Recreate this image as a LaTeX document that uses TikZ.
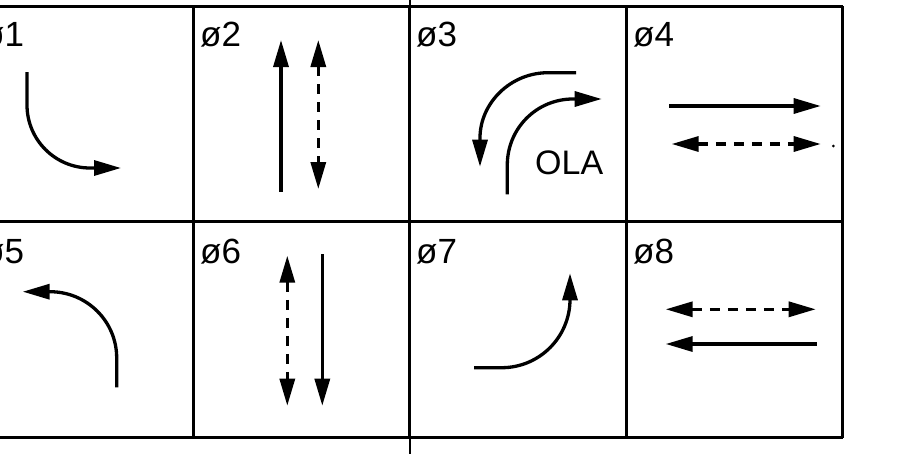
\documentclass[tikz,border=0pt]{standalone}
\usepackage{fontspec}
\setmainfont{Liberation Sans}
\usetikzlibrary{arrows.meta}
\begin{document}
\begin{tikzpicture}[x=1pt,y=-1pt,
  gridline/.style={line width=3pt},
  thinline/.style={line width=1.3pt},
  flow/.style={line width=3.3pt,-{Triangle[length=27pt,width=15pt]}},
  both/.style={line width=3.3pt,dash pattern=on 10pt off 8pt,
    {Triangle[length=27pt,width=15pt]}-{Triangle[length=27pt,width=15pt]}},
  lbl/.style={anchor=base west,inner sep=0pt,font=\fontsize{35}{35}\selectfont},
  olalbl/.style={anchor=base west,inner sep=0pt,font=\fontsize{34}{34}\selectfont}]
\useasboundingbox (0,0) rectangle (900,463);
\clip (0,0) rectangle (900,463);
% grid
\draw[gridline] (-30,6) -- (842.7,6);
\draw[gridline] (-30,221.7) -- (842.7,221.7);
\draw[gridline] (-30,437.7) -- (842.7,437.7);
\foreach \x in {193.3,409.3,626,842.7}
  \draw[gridline] (\x,6) -- (\x,437.7);
\draw[thinline] (410,0) -- (410,6);
\draw[thinline] (410,437.7) -- (410,454);
% labels
\node[lbl] (l1) at (-17,46.7) {ø1};
\node[lbl] (l2) at (200,46.7) {ø2};
\node[lbl] (l3) at (416,46.7) {ø3};
\node[lbl] (l4) at (633,46.7) {ø4};
\node[lbl] (l5) at (-17,263) {ø5};
\node[lbl] (l6) at (200,263) {ø6};
\node[lbl] (l7) at (416,263) {ø7};
\node[lbl] (l8) at (633,263) {ø8};
\node[olalbl] (ola) at (535,174) {OLA};
% cell 1
\draw[flow] (27,72) -- (27,105) .. controls (27,139.8) and (55.2,168) .. (90,168) -- (121,168);
% cell 2
\draw[flow] (281,191.7) -- (281,40);
\draw[both] (318.3,40) -- (318.3,189);
% cell 3
\draw[flow] (576,72.7) -- (548,72.7) .. controls (510.4,72.7) and (480,103.1) .. (480,138) -- (480,166.7);
\draw[flow] (507.3,194.3) -- (507.3,165) .. controls (507.3,128.5) and (536.5,99) .. (573,99) -- (601.7,99);
% cell 4
\draw[flow] (669.3,106) -- (820.7,106);
\draw[both] (671.7,144) -- (820.7,144);
\fill (833.3,146) circle (1.5);
% cell 5
\draw[flow] (116.7,387.3) -- (116.7,358) .. controls (116.7,321.2) and (86.8,291.7) .. (50,291.7) -- (22.7,291.7);
% cell 6
\draw[both] (287.3,255.7) -- (287.3,405.7);
\draw[flow] (322.3,254) -- (322.3,405.7);
% cell 7
\draw[flow] (474,367.7) -- (501.7,367.7) .. controls (539.4,367.7) and (570,337.1) .. (570,299.4) -- (570,273.3);
% cell 8
\draw[both] (665.7,309.3) -- (815.7,309.3);
\draw[flow] (816.7,344) -- (665.7,344);
\end{tikzpicture}
\end{document}
